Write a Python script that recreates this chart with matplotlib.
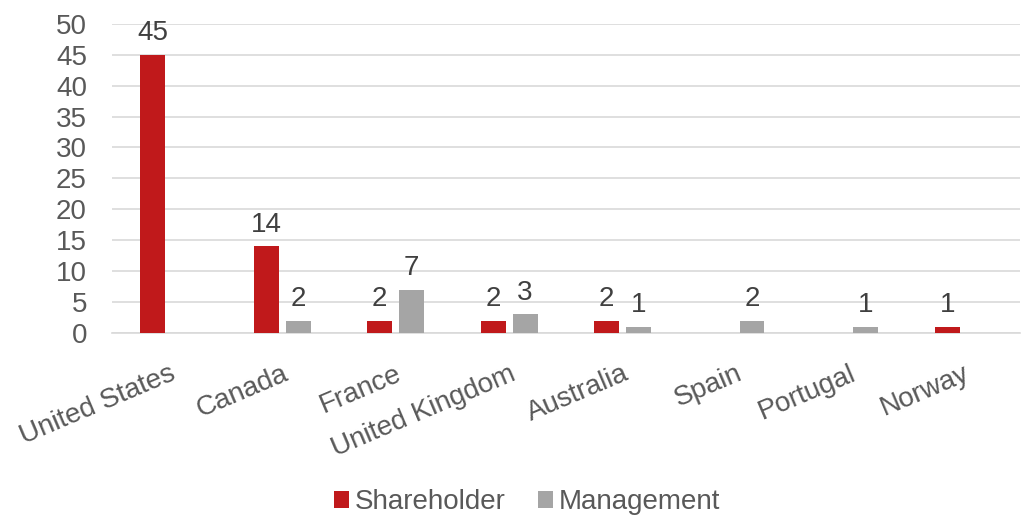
import numpy as np
import matplotlib.pyplot as plt

plt.rcParams['font.family'] = ['Liberation Sans', 'DejaVu Sans']

countries = ["United States", "Canada", "France", "United Kingdom",
             "Australia", "Spain", "Portugal", "Norway"]
shareholder = [45, 14, 2, 2, 2, 0, 0, 1]
management = [0, 2, 7, 3, 1, 2, 1, 0]

red = "#C0191B"
grey = "#A5A5A5"

fig = plt.figure(figsize=(10.27, 5.17), dpi=100)
ax = fig.add_axes([0.109, 0.356, 0.884, 0.598])

x = np.arange(len(countries))
w = 0.22
off = 0.14
b1 = ax.bar(x - off, shareholder, w, color=red, label="Shareholder", zorder=3)
b2 = ax.bar(x + off, management, w, color=grey, label="Management", zorder=3)

# value labels, skip zeros
for bars, vals in ((b1, shareholder), (b2, management)):
    for b, v in zip(bars, vals):
        if v == 0:
            continue
        ax.text(b.get_x() + b.get_width() / 2, v + 1.4, str(v),
                ha="center", va="bottom", fontsize=20, color="#404040")

ax.set_xlim(-0.5, len(countries) - 0.5)
ax.set_ylim(0, 50)
ax.set_yticks(range(0, 51, 5))
ax.yaxis.grid(True, color="#D9D9D9", linewidth=1.2, zorder=0)
ax.set_axisbelow(True)
for s in ["top", "right", "left"]:
    ax.spines[s].set_visible(False)
ax.spines["bottom"].set_color("#D9D9D9")
ax.spines["bottom"].set_linewidth(1.2)

ax.tick_params(axis="both", length=0, labelsize=20, labelcolor="#595959")
ax.tick_params(axis="y", pad=18)
ax.tick_params(axis="x", pad=20)
ax.set_xticks(x)
ax.set_xticklabels(countries, rotation=23, ha="right", rotation_mode="anchor")

fig.legend(loc="lower center", bbox_to_anchor=(0.513, -0.045), ncol=2,
           frameon=False, fontsize=20, handlelength=0.55, handleheight=0.55,
           handletextpad=0.2, columnspacing=1.15, labelcolor="#595959")

fig.savefig("out.png", dpi=100)
